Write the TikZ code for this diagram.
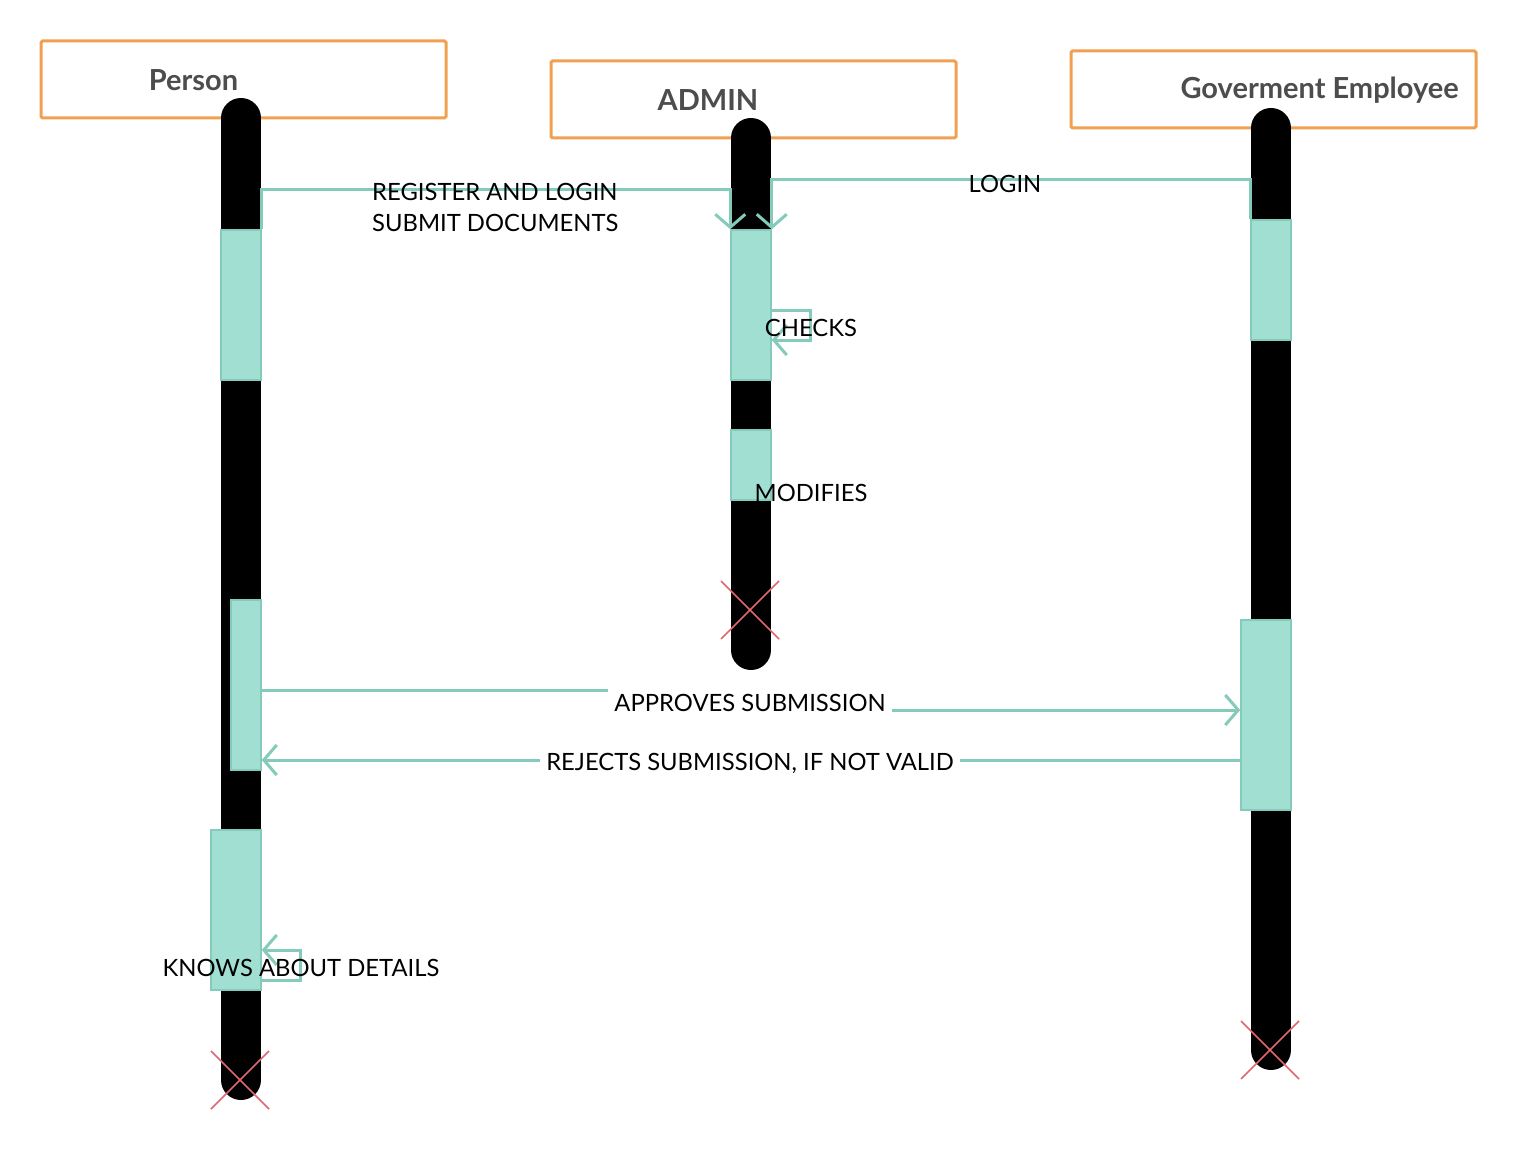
\documentclass[tikz,border=0pt]{standalone}
\usepackage{fontspec}
\setmainfont{Lato}
\usetikzlibrary{arrows.meta}
\definecolor{hdrorange}{HTML}{F0A050}
\definecolor{hdrtext}{HTML}{4D4D4D}
\definecolor{tealline}{HTML}{85CBBB}
\definecolor{tealfill}{HTML}{A0DFD2}
\definecolor{xred}{HTML}{E06670}
\tikzset{
  header/.style={draw=hdrorange, line width=3pt, rounded corners=1.5pt, fill=none,
    minimum width=405pt, minimum height=77pt, inner sep=0pt},
  hdrlabel/.style={text=hdrtext, font=\fontsize{29}{32}\selectfont\bfseries, inner sep=0pt},
  lifeline/.style={line width=40pt, line cap=round, black},
  act/.style={draw=tealline, line width=1.5pt, fill=tealfill, inner sep=0pt},
  msg/.style={draw=tealline, line width=3pt},
  arr/.style={-{Straight Barb[length=13pt,width=30pt,line width=3pt]}},
  lbl/.style={font=\fontsize{23.8}{27}\selectfont, text=black, inner sep=0pt},
  wlbl/.style={lbl, fill=white, inner xsep=6pt, inner ysep=7pt},
  xmark/.style={draw=xred, line width=1.6pt},
}
\begin{document}
\begin{tikzpicture}[x=1pt,y=-1pt]
\useasboundingbox[fill=white] (0,0) rectangle (1514,1150);
% headers
\node[header] (hp) at (243.5,79.5) {};
\node[header] (ha) at (753.5,99.5) {};
\node[header] (hg) at (1273.5,89.5) {};
\node[hdrlabel] (hpl) at (193.5,80) {Person};
\node[hdrlabel] (hal) at (708,100) {ADMIN};
\node[hdrlabel, anchor=east] (hgl) at (1459,90) {Goverment Employee};
% lifelines
\coordinate (lpt) at (241,118);
\coordinate (lpb) at (241,1080);
\coordinate (lat) at (751,138);
\coordinate (lab) at (751,650);
\coordinate (lgt) at (1271,128);
\coordinate (lgb) at (1271,1050);
\draw[lifeline] (lpt) -- (lpb);
\draw[lifeline] (lat) -- (lab);
\draw[lifeline] (lgt) -- (lgb);
% activations
\node[act, minimum width=40pt, minimum height=150pt] (p1) at (241,305) {};
\node[act, minimum width=30pt, minimum height=170pt] (p2) at (246,685) {};
\node[act, minimum width=50pt, minimum height=160pt] (p3) at (236,910) {};
\node[act, minimum width=40pt, minimum height=150pt] (a1) at (751,305) {};
\node[act, minimum width=40pt, minimum height=70pt] (a2) at (751,465) {};
\node[act, minimum width=40pt, minimum height=120pt] (g1) at (1271,280) {};
\node[act, minimum width=50pt, minimum height=190pt] (g2) at (1266,715) {};
% register and login
\draw[msg, arr] (p1.north east) -- ++(0,-40) -| (a1.north west);
\node[lbl, anchor=base west] (reg1) at (372,201) {REGISTER AND LOGIN};
\node[lbl, anchor=base west] (reg2) at (372,232) {SUBMIT DOCUMENTS};
% login
\draw[msg, arr] (g1.north west) -- ++(0,-40) -| (a1.north east);
\node[lbl] (login) at (1005,184) {LOGIN};
% checks (self message)
\draw[msg, arr] (a1.east |- 0,310) -- (810,310) -- (810,340) -- (a1.east |- 0,340);
\node[lbl] (checks) at (811,328) {CHECKS};
% modifies
\node[lbl] (modif) at (811,493) {MODIFIES};
% approves
\coordinate (apm1) at (750,690);
\coordinate (apm2) at (750,710);
\draw[msg, arr] (p2.east |- 0,690) -- (apm1) -- (apm2) -- (g2.west |- 0,710);
\node[wlbl] (appr) at (750,703) {APPROVES SUBMISSION};
% rejects
\draw[msg, arr] (g2.west |- 0,760) -- (p2.east |- 0,760);
\node[wlbl] (rej) at (750,763) {REJECTS SUBMISSION, IF NOT VALID};
% knows about details
\draw[msg, arr] (p3.east |- 0,980) -- (300,980) -- (300,950) -- (p3.east |- 0,950);
\node[lbl] (knows) at (301,968) {KNOWS ABOUT DETAILS};
% destruction marks
\draw[xmark] (211,1051) -- (269,1109) (269,1051) -- (211,1109);
\draw[xmark] (721,581) -- (779,639) (779,581) -- (721,639);
\draw[xmark] (1241,1021) -- (1299,1079) (1299,1021) -- (1241,1079);
\end{tikzpicture}
\end{document}
